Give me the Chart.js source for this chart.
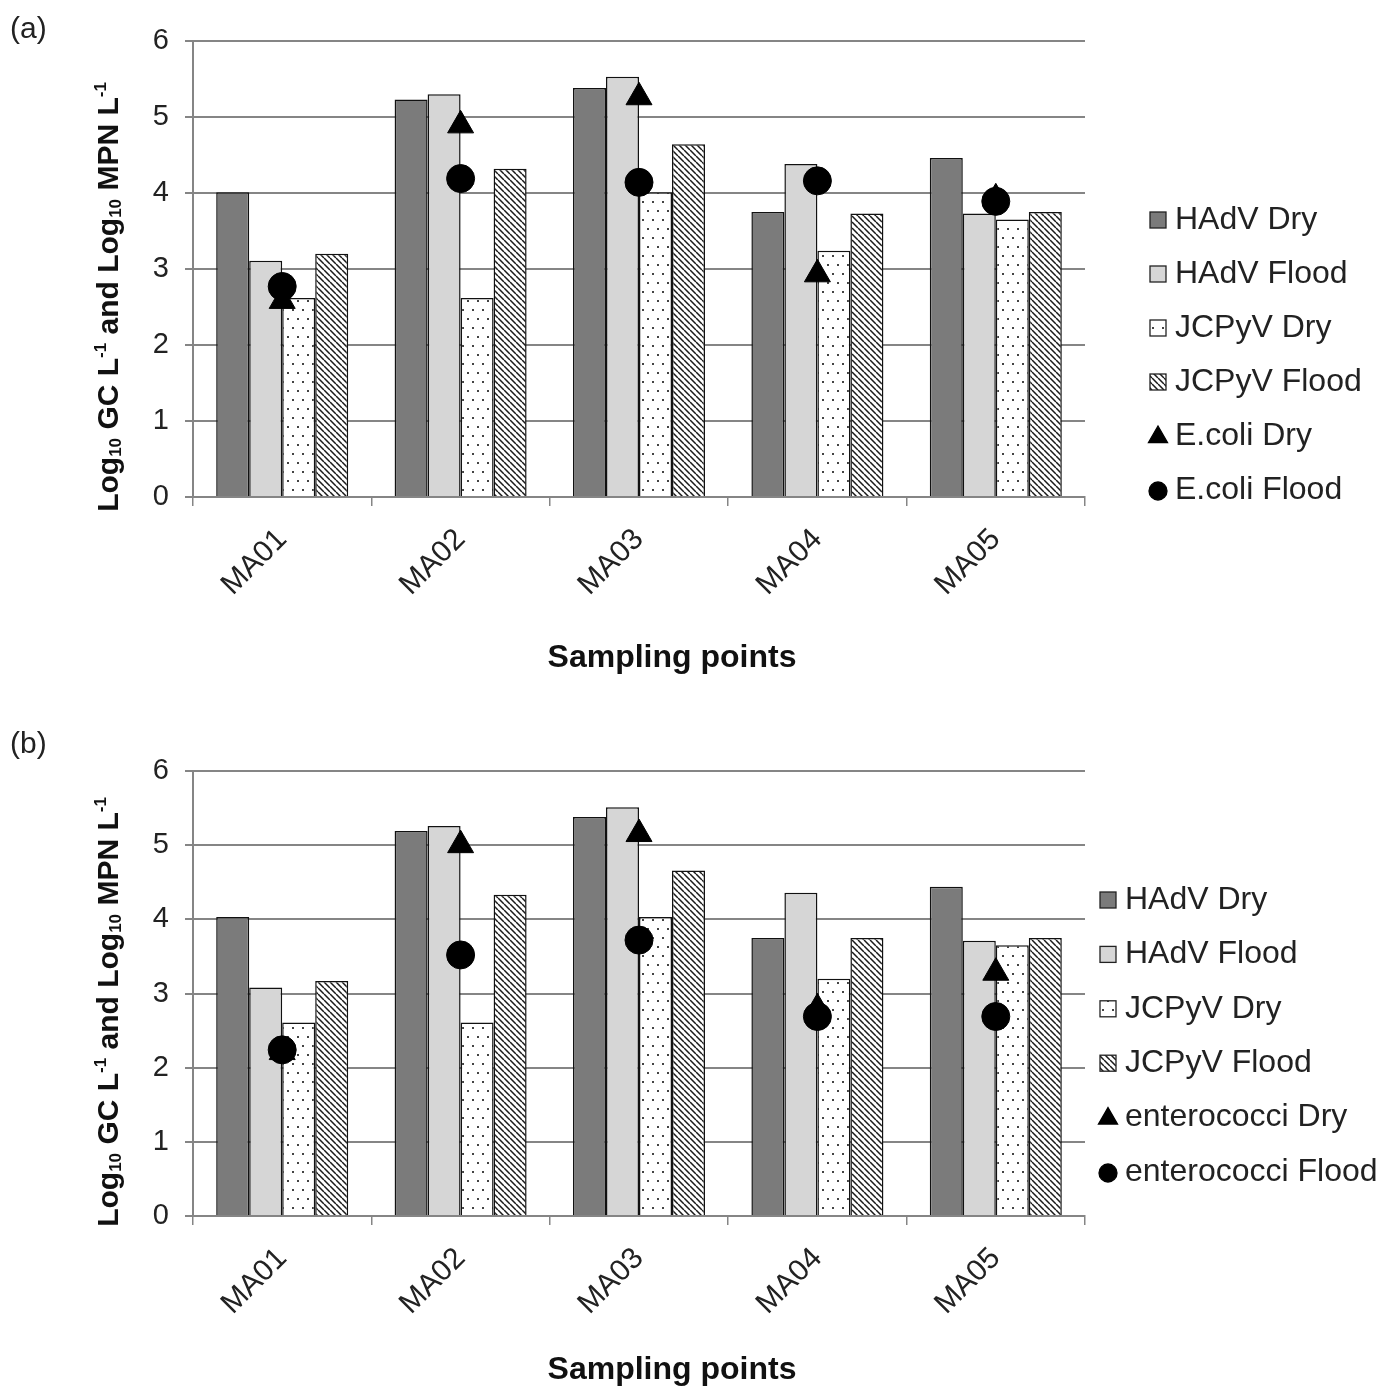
<!DOCTYPE html>
<html>
<head>
<meta charset="utf-8">
<script src="https://cdn.jsdelivr.net/npm/chart.js@4.4.0/dist/chart.umd.min.js"></script>
<style>
body { margin: 0; background: #fff; }
canvas { display: block; }
</style>
</head>
<body>
<canvas id="chartA" width="1400" height="700"></canvas>
<canvas id="chartB" width="1400" height="690"></canvas>
<script>
var sites = ['MA01', 'MA02', 'MA03', 'MA04', 'MA05'];
var yTicks = [0, 1, 2, 3, 4, 5, 6];

// panel (a) - viruses and E.coli
var hadvDryA = [4.01, 5.23, 5.38, 3.75, 4.46];
var hadvFloodA = [3.11, 5.30, 5.53, 4.38, 3.73];
var jcDryA = [2.62, 2.62, 4.01, 3.24, 3.65];
var jcFloodA = [3.20, 4.32, 4.64, 3.73, 3.75];
var ecoliDry = [2.58, 4.89, 5.26, 2.93, 3.93];
var ecoliFlood = [2.77, 4.19, 4.14, 4.16, 3.89];

// panel (b) - viruses and enterococci
var hadvDryB = [4.03, 5.19, 5.38, 3.75, 4.44];
var hadvFloodB = [3.08, 5.26, 5.51, 4.36, 3.71];
var jcDryB = [2.61, 2.61, 4.03, 3.20, 3.65];
var jcFloodB = [3.17, 4.33, 4.66, 3.75, 3.75];
var enteroDry = [2.21, 5.00, 5.15, 2.80, 3.28];
var enteroFlood = [2.24, 3.52, 3.72, 2.69, 2.69];

var labelsA = ['HAdV Dry', 'HAdV Flood', 'JCPyV Dry', 'JCPyV Flood', 'E.coli Dry', 'E.coli Flood'];
var labelsB = ['HAdV Dry', 'HAdV Flood', 'JCPyV Dry', 'JCPyV Flood', 'enterococci Dry', 'enterococci Flood'];

var FONT = '"Liberation Sans", Arial, sans-serif';
var GRID = '#858585';

// axis title with sub/superscripts
var yTitleParts = [
    { t: 'Log' }, { t: '10', sub: true }, { t: ' GC L' }, { t: '-1', sup: true },
    { t: ' and Log' }, { t: '10', sub: true }, { t: ' MPN L' }, { t: '-1', sup: true }
];

function makeDots(ctx) {
    var c = document.createElement('canvas');
    c.width = 10; c.height = 18;
    var g = c.getContext('2d');
    g.fillStyle = '#fff';
    g.fillRect(0, 0, 10, 18);
    g.fillStyle = '#444';
    g.fillRect(2, 3, 2, 2);
    g.fillRect(7, 12, 2, 2);
    return ctx.createPattern(c, 'repeat');
}

function makeHatch(ctx) {
    var s = 6;
    var c = document.createElement('canvas');
    c.width = s; c.height = s;
    var g = c.getContext('2d');
    g.fillStyle = '#fff';
    g.fillRect(0, 0, s, s);
    g.strokeStyle = '#1a1a1a';
    g.lineWidth = 1.5;
    g.beginPath();
    for (var k = -s; k <= s; k += s) {
        g.moveTo(k, 0);
        g.lineTo(k + s, s);
    }
    g.stroke();
    return ctx.createPattern(c, 'repeat');
}

function drawRich(ctx, parts, size) {
    var big = 'bold ' + size + 'px ' + FONT;
    var small = 'bold ' + Math.round(size * 0.58) + 'px ' + FONT;
    var total = 0;
    parts.forEach(function (p) {
        ctx.font = (p.sub || p.sup) ? small : big;
        p.w = ctx.measureText(p.t).width;
        total += p.w;
    });
    var x = -total / 2;
    parts.forEach(function (p) {
        ctx.font = (p.sub || p.sup) ? small : big;
        var dy = p.sub ? size * 0.22 : (p.sup ? -size * 0.3 : 0);
        ctx.fillText(p.t, x, dy);
        x += p.w;
    });
}

// legend at the side + panel label + axis titles
var sideText = {
    id: 'sideText',
    afterDraw: function (chart, args, o) {
        var ctx = chart.ctx;
        ctx.save();
        ctx.textBaseline = 'middle';
        ctx.textAlign = 'left';
        chart.data.datasets.forEach(function (ds, i) {
            var y = o.legendY + i * o.legendGap;
            var x = o.legendX;
            if (ds.type === 'line') {
                ctx.fillStyle = '#000';
                ctx.strokeStyle = '#000';
                Chart.helpers.drawPoint(ctx, { pointStyle: ds.pointStyle, radius: ds.pointStyle == 'triangle' ? 11 : 9, rotation: 0, borderWidth: 1 }, x + 8, y + 1);
            } else {
                ctx.fillStyle = ds.backgroundColor;
                ctx.fillRect(x, y - 8, 16, 16);
                ctx.lineWidth = 1.3;
                ctx.strokeStyle = '#222';
                ctx.strokeRect(x, y - 8, 16, 16);
            }
            ctx.fillStyle = '#222';
            ctx.font = o.legendSize + 'px ' + FONT;
            ctx.fillText(ds.label, o.legendX + 25, y);
        });

        ctx.font = '30px ' + FONT;
        ctx.fillStyle = '#222';
        ctx.fillText(o.panel, o.panelX, o.panelY);

        ctx.textAlign = 'center';
        ctx.font = 'bold 32px ' + FONT;
        ctx.fillStyle = '#111';
        ctx.fillText('Sampling points', o.xTitleX, o.xTitleY);

        ctx.translate(o.yTitleX, o.yTitleY);
        ctx.rotate(-Math.PI / 2);
        ctx.textAlign = 'left';
        drawRich(ctx, yTitleParts, 30);
        ctx.restore();
    }
};

function buildChart(id, vals, labels, lay) {
    var ctx = document.getElementById(id).getContext('2d');
    var fills = ['#7b7b7b', '#d6d6d6', makeDots(ctx), makeHatch(ctx)];
    var datasets = [];
    for (var i = 0; i < 4; i++) {
        datasets.push({
            type: 'bar',
            label: labels[i],
            data: vals[i],
            backgroundColor: fills[i],
            borderColor: '#111',
            borderWidth: 1.5,
            categoryPercentage: 0.74,
            barPercentage: 1.0,
            order: 0
        });
    }
    datasets.push({
        type: 'line', label: labels[4], data: vals[4], showLine: false,
        pointStyle: 'triangle', pointRadius: 15, backgroundColor: '#000', borderColor: '#000',
        pointBorderWidth: 1, order: -1
    });
    datasets.push({
        type: 'line', label: labels[5], data: vals[5], showLine: false,
        pointStyle: 'circle', pointRadius: 14, backgroundColor: '#000', borderColor: '#000',
        pointBorderWidth: 1, order: -2
    });

    return new Chart(ctx, {
        type: 'bar',
        data: { labels: sites, datasets: datasets },
        plugins: [sideText],
        options: {
            responsive: false,
            animation: false,
            devicePixelRatio: 1,
            layout: { padding: { top: lay.top, right: 315, left: 0, bottom: 0 } },
            plugins: {
                legend: { display: false },
                tooltip: { enabled: false },
                sideText: lay.text
            },
            scales: {
                x: {
                    grid: { display: true, drawOnChartArea: false, drawTicks: true, tickLength: 9, color: GRID, lineWidth: 1.5, offset: true },
                    border: { color: GRID, width: 2 },
                    ticks: { font: { family: FONT, size: 30 }, color: '#222', minRotation: 45, maxRotation: 45, autoSkip: false, padding: 16 },
                    afterFit: function (s) { s.height = lay.xh; }
                },
                y: {
                    min: 0,
                    max: 6,
                    afterBuildTicks: function (s) { s.ticks = yTicks.map(function (v) { return { value: v }; }); },
                    ticks: { font: { family: FONT, size: 29 }, color: '#222', padding: 16 },
                    grid: { color: GRID, lineWidth: 2, tickLength: 8 },
                    border: { color: GRID, width: 2 },
                    afterFit: function (s) { s.width = 193; }
                }
            }
        }
    });
}

buildChart('chartA', [hadvDryA, hadvFloodA, jcDryA, jcFloodA, ecoliDry, ecoliFlood], labelsA, {
    top: 41, xh: 203,
    text: { legendX: 1150, legendY: 220, legendGap: 54, legendSize: 32, panel: '(a)', panelX: 10, panelY: 30,
        xTitleX: 672, xTitleY: 658, yTitleX: 110, yTitleY: 297 }
});

buildChart('chartB', [hadvDryB, hadvFloodB, jcDryB, jcFloodB, enteroDry, enteroFlood], labelsB, {
    top: 71, xh: 174,
    text: { legendX: 1100, legendY: 200, legendGap: 54.4, legendSize: 32, panel: '(b)', panelX: 10, panelY: 45,
        xTitleX: 672, xTitleY: 670, yTitleX: 110, yTitleY: 312 }
});
</script>
</body>
</html>
